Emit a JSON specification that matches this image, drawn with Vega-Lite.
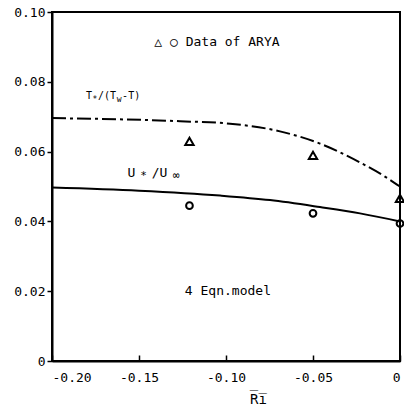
{
  "$schema": "https://vega.github.io/schema/vega-lite/v6.json",
  "width": 348,
  "height": 349,
  "autosize": {"type": "none"},
  "padding": {"left": 52, "top": 12, "right": 4, "bottom": 44},
  "background": "white",
  "config": {
    "view": {"stroke": "black", "strokeWidth": 2},
    "font": "DejaVu Sans Mono",
    "axis": {
      "domainColor": "black", "domainWidth": 2, "tickColor": "black", "tickWidth": 1.5,
      "labelColor": "black", "labelFont": "DejaVu Sans Mono", "labelFontSize": 13,
      "grid": false, "titleColor": "black", "titleFont": "DejaVu Sans Mono"
    }
  },
  "encoding": {
    "x": {
      "field": "ri", "type": "quantitative",
      "scale": {"domain": [-0.2, 0], "nice": false, "zero": false},
      "axis": {
        "values": [-0.2, -0.15, -0.1, -0.05, 0],
        "labelExpr": "datum.value == 0 ? '0' : replace(format(datum.value, '.2f'), '−', '-')",
        "tickSize": -6, "labelPadding": 16, "labelFontSize": 13,
        "title": "R̅i̅", "titleFontSize": 14, "titleFontWeight": "normal", "titlePadding": 8, "titleX": 206
      }
    },
    "y": {
      "field": "value", "type": "quantitative",
      "scale": {"domain": [0, 0.1], "nice": false},
      "axis": {
        "values": [0, 0.02, 0.04, 0.06, 0.08, 0.1],
        "labelExpr": "datum.value == 0 ? '0' : format(datum.value, '.2f')",
        "tickSize": 5, "labelPadding": 2, "title": null
      }
    }
  },
  "layer": [
    {
      "data": {"values": [
        {"ri": -0.2, "value": 0.0696},
        {"ri": -0.1264, "value": 0.0687},
        {"ri": -0.0977, "value": 0.0680},
        {"ri": -0.069, "value": 0.0658},
        {"ri": -0.046, "value": 0.0623},
        {"ri": -0.023, "value": 0.0569},
        {"ri": -0.0098, "value": 0.0532},
        {"ri": 0, "value": 0.0500}
      ]},
      "mark": {"type": "line", "color": "black", "strokeWidth": 2, "strokeDash": [14, 4, 3, 4], "interpolate": "monotone"}
    },
    {
      "data": {"values": [
        {"ri": -0.2, "value": 0.0497},
        {"ri": -0.15, "value": 0.0488},
        {"ri": -0.1034, "value": 0.0474},
        {"ri": -0.0747, "value": 0.0461},
        {"ri": -0.046, "value": 0.0441},
        {"ri": -0.023, "value": 0.0423},
        {"ri": 0, "value": 0.0400}
      ]},
      "mark": {"type": "line", "color": "black", "strokeWidth": 2, "interpolate": "monotone"}
    },
    {
      "data": {"values": [
        {"ri": -0.121, "value": 0.0629},
        {"ri": -0.05, "value": 0.0589},
        {"ri": 0, "value": 0.0466}
      ]},
      "mark": {"type": "point", "shape": "triangle-up", "filled": false, "color": "black", "size": 70, "strokeWidth": 2, "opacity": 1}
    },
    {
      "data": {"values": [
        {"ri": -0.121, "value": 0.0445},
        {"ri": -0.05, "value": 0.0423},
        {"ri": 0, "value": 0.0394}
      ]},
      "mark": {"type": "point", "shape": "circle", "filled": false, "color": "black", "size": 45, "strokeWidth": 2, "opacity": 1}
    },
    {
      "data": {"values": [
        {"ri": -0.1052, "value": 0.0913, "label": "△ ○ Data of ARYA"},
        {"ri": -0.0989, "value": 0.0200, "label": "4 Eqn.model"}
      ]},
      "mark": {"type": "text", "align": "center", "baseline": "middle", "fontSize": 13, "color": "black"},
      "encoding": {"text": {"field": "label"}}
    },
    {
      "data": {"values": [
        {"ri": -0.1805, "value": 0.0760, "label": "T"},
        {"ri": -0.1736, "value": 0.0760, "label": "/(T"},
        {"ri": -0.1597, "value": 0.0760, "label": "-T)"}
      ]},
      "mark": {"type": "text", "align": "left", "baseline": "middle", "fontSize": 10, "color": "black"},
      "encoding": {"text": {"field": "label"}}
    },
    {
      "data": {"values": [
        {"ri": -0.1753, "value": 0.0760, "label": "*"},
        {"ri": -0.1614, "value": 0.0760, "label": "w"}
      ]},
      "mark": {"type": "text", "align": "center", "baseline": "middle", "fontSize": 8, "dy": 4, "color": "black"},
      "encoding": {"text": {"field": "label"}}
    },
    {
      "data": {"values": [
        {"ri": -0.1543, "value": 0.0540, "label": "U"},
        {"ri": -0.1382, "value": 0.0540, "label": "/U"}
      ]},
      "mark": {"type": "text", "align": "center", "baseline": "middle", "fontSize": 13, "color": "black"},
      "encoding": {"text": {"field": "label"}}
    },
    {
      "data": {"values": [
        {"ri": -0.1474, "value": 0.0540, "label": "*"},
        {"ri": -0.1287, "value": 0.0540, "label": "∞"}
      ]},
      "mark": {"type": "text", "align": "center", "baseline": "middle", "fontSize": 11, "dy": 3, "color": "black"},
      "encoding": {"text": {"field": "label"}}
    }
  ]
}
